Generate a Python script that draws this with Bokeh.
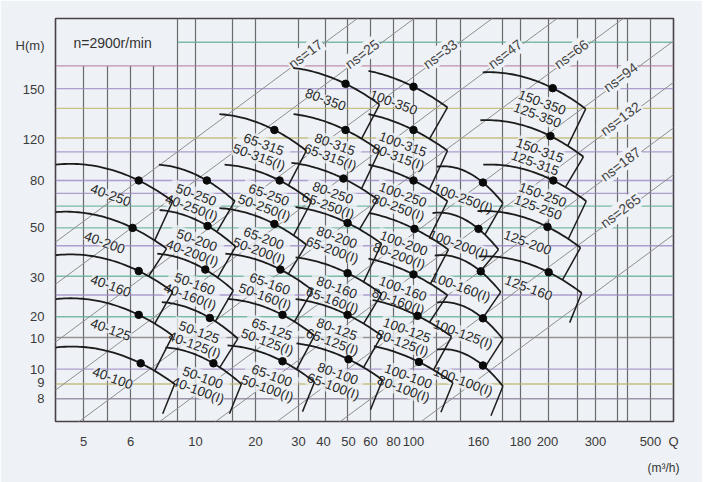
import numpy as np
from bokeh.plotting import figure
from bokeh.models import FixedTicker, Label, Range1d, Title
from bokeh.embed import file_html
from bokeh.resources import INLINE
from bokeh.core.properties import value

# ---------------- axis ticks (the chart's axis is a stylised, non-uniform scale) ----
x_tick_labels = ["5", "6", "10", "20", "30", "40", "50", "60", "80", "100", "160", "180", "200", "300", "500"]
x_tick_q = [5, 6, 10, 20, 30, 40, 50, 60, 80, 100, 160, 180, 200, 300, 500]
y_tick_labels = ["8", "9", "10", "10", "20", "30", "50", "80", "120", "150"]
y_tick_h = [8, 9, 10, 15, 20, 30, 50, 80, 120, 150]

# ---------------- pump best-efficiency points (Q m3/h, H m) by column ---------------
pump_labels = [
    "40-250", "40-200", "40-160", "40-125", "40-100",
    "50-250\n40-250(I)", "50-200\n40-200(I)", "50-160\n40-160(I)", "50-125\n40-125(I)", "50-100\n40-100(I)",
    "65-315\n50-315(I)", "65-250\n50-250(I)", "65-200\n50-200(I)", "65-160\n50-160(I)", "65-125\n50-125(I)", "65-100\n50-100(I)",
    "80-350", "80-315\n65-315(I)", "80-250\n65-250(I)", "80-200\n65-200(I)", "80-160\n65-160(I)", "80-125\n65-125(I)", "80-100\n65-100(I)",
    "100-350", "100-315\n80-315(I)", "100-250\n80-250(I)", "100-200\n80-200(I)", "100-160\n80-160(I)", "100-125\n80-125(I)", "100-100\n80-100(I)",
    "100-250(I)", "100-200(I)", "100-160(I)", "100-125(I)", "100-100(I)",
    "150-350\n125-350", "150-315\n125-315", "150-250\n125-250", "125-200", "125-160",
]
pump_q = [
    6.4, 6.1, 6.4, 6.4, 6.5,
    11.4, 11.5, 11.2, 11.8, 12.3,
    23.9, 25.1, 23.9, 25.3, 25.8, 25.8,
    48.7, 48.7, 47.8, 49.6, 49.6, 49.6, 50,
    100, 100, 100, 100.7, 100, 103, 104,
    162, 160, 161, 162, 162,
    209, 205, 210, 200, 202,
]
pump_h = [
    80, 50, 32, 20.4, 10.8,
    80, 51, 32.5, 19.7, 10.8,
    125, 80, 52, 32.5, 20.4, 11.1,
    154, 125, 81.5, 52.5, 31.3, 20.4, 11.4,
    152, 125, 80, 49.5, 30.9, 20.2, 11.0,
    78.4, 49.5, 31.9, 19.6, 10.5,
    151, 121.6, 80, 50.5, 31.6,
]
pump_col = [0] * 5 + [1] * 5 + [2] * 6 + [3] * 7 + [4] * 7 + [5] * 5 + [6] * 5

# specific-speed lines: label and the flow at which each crosses H = 80 m
ns_labels = ["ns=17", "ns=25", "ns=33", "ns=47", "ns=66", "ns=94", "ns=132", "ns=187", "ns=265", ""]
ns_q_at_80 = [6.4, 10, 23.7, 45.7, 90.5, 163, 195, 320, 575, 1220]

# ---------------- layout (screen-like position units, 1 unit = 1 px) -------------
x_tick_pos = [28, 75, 140, 200, 243, 268, 293, 315, 338, 358, 423, 465, 492, 540, 595]
y_tick_pos = [23, 39, 53, 84, 106, 146, 196, 244, 286, 336]
FW, FH = 618, 408


def to_pos(v, vals, pos):
    lv = np.log10(np.atleast_1d(np.asarray(v, float)))
    lvals = np.log10(np.asarray(vals, float))
    pos = np.asarray(pos, float)
    i = np.clip(np.searchsorted(lvals, lv) - 1, 0, len(lvals) - 2)
    return pos[i] + (lv - lvals[i]) * (pos[i + 1] - pos[i]) / (lvals[i + 1] - lvals[i])


BG = "#eef1f5"
INK = "#1c1c1c"
FONT = "Liberation Sans"

p = figure(width=702, height=482, x_range=Range1d(0, FW), y_range=Range1d(0, FH),
           output_backend="svg", toolbar_location=None,
           min_border_left=55, min_border_right=29, min_border_top=18, min_border_bottom=56)
p.background_fill_color = BG
p.border_fill_color = BG
p.outline_line_color = "#4a4048"
p.outline_line_width = 1.6
p.grid.visible = False

for ax in (p.xaxis[0], p.yaxis[0]):
    ax.axis_line_color = None
    ax.major_tick_line_color = None
    ax.minor_tick_line_color = None
    ax.major_label_text_font = FONT
    ax.major_label_text_font_size = "13px"
    ax.major_label_text_color = "#3a3a3a"

x_ticks = x_tick_pos + [FW]
p.xaxis.ticker = FixedTicker(ticks=x_ticks)
xov = {t: l for t, l in zip(x_tick_pos, x_tick_labels)}
xov[FW] = "Q"
p.xaxis.major_label_overrides = xov
p.xaxis.major_label_standoff = 6
y_ticks = y_tick_pos + [381]
p.yaxis.ticker = FixedTicker(ticks=y_ticks)
ov = {t: l for t, l in zip(y_tick_pos, y_tick_labels)}
ov[381] = "H(m)"
p.yaxis.major_label_overrides = ov
p.yaxis.major_label_standoff = 5

p.add_layout(Title(text="(m³/h)", align="right", text_font=FONT, text_font_size="12px",
                   text_font_style="normal", text_color="#333333", offset=-6, standoff=15), "below")

# ---------------- grid ----------------
vgrid_full = [122, 140, 177, 200, 243, 270, 292, 315, 338, 358, 381, 405, 447, 465, 493, 522, 540, 562, 572, 595]
vgrid_short = [28, 52, 75, 98]
p.segment(x0=vgrid_full, y0=[0] * len(vgrid_full), x1=vgrid_full, y1=[FH] * len(vgrid_full),
          line_color="#6a6a6a", line_width=1.2)
p.segment(x0=vgrid_short, y0=[0] * 4, x1=vgrid_short, y1=[360] * 4, line_color="#6a6a6a", line_width=1.2)

hgrid = [(384, "#5fae93", 122), (360, "#b5789e", 0), (337, "#9b8ac4", 0), (317, "#bdb56a", 0),
         (287, "#bdb56a", 0), (273, "#9b8ac4", 0), (244, "#9b8ac4", 0), (231, "#9b8ac4", 0),
         (218, "#5fae93", 0), (196, "#5fae93", 0), (178, "#9b8ac4", 0), (147, "#5fae93", 0),
         (128, "#9b8ac4", 0), (106, "#5fae93", 0), (85, "#7c7c7c", 0), (53, "#9b8ac4", 0),
         (38, "#bdb56a", 0), (23, "#8a7f98", 0)]
for yy, cc, x0 in hgrid:
    p.segment(x0=[x0], y0=[yy], x1=[FW], y1=[yy], line_color=cc, line_width=1.4, line_alpha=0.8)

# ---------------- specific speed lines ----------------
y80 = to_pos([80], y_tick_h, y_tick_pos)[0]
ns_x80 = to_pos(ns_q_at_80, x_tick_q, x_tick_pos)
slope = 0.75
lx_all, ly_all, lt_all = [], [], []
for lab, x80 in zip(ns_labels, ns_x80):
    xa, xb = -300.0, 900.0
    p.line([xa, xb], [y80 + slope * (xa - x80), y80 + slope * (xb - x80)],
           line_color="#8e8e8e", line_width=1.0)
    if lab:
        x_top = x80 + (FH - y80) / slope
        lx = min(x_top - 52, 565)
        ly = y80 + slope * (lx - x80) + 3
        lx_all.append(lx); ly_all.append(ly); lt_all.append(lab)
p.text(x=lx_all, y=ly_all, text=lt_all, angle=float(np.arctan(slope)),
       text_align="center", text_baseline="middle", text_font=value(FONT),
       text_font_size="14px", text_color="#444444",
       background_fill_color=BG, padding=1)

# ---------------- pump curves ----------------
qx = to_pos(pump_q, x_tick_q, x_tick_pos)
hy = to_pos(pump_h, y_tick_h, y_tick_pos)
col_start_dx = [None, 48, 55, 52, 45, 46, 70]
col_end_dx = [34, 28, 32, 34, 34, 20, 33]
R, D = 16, 21
cxs, cys, polys = [], [], []
for i in range(len(pump_q)):
    c = pump_col[i]
    xd, yd = qx[i], hy[i]
    xs = 0.0 if col_start_dx[c] is None else xd - col_start_dx[c]
    xe = xd + col_end_dx[c]
    coef = np.polyfit([xs, xd, xe], [yd + R, yd, yd - D], 2)
    xx = np.linspace(xs, xe, 40)
    cxs.append(list(xx)); cys.append(list(np.polyval(coef, xx)))
    polys.append((coef, xs, xe))

bxs, bys = [], []
for i in range(len(pump_q)):
    coef, xs, xe = polys[i]
    ye = float(np.polyval(coef, xe))
    if i + 1 < len(pump_q) and pump_col[i + 1] == pump_col[i]:
        x2 = xe - 18
        y2 = float(np.polyval(polys[i + 1][0], x2))
    else:
        x2, y2 = xe - 12, ye - 30
    bxs.append([xe, x2]); bys.append([ye, y2])

lab_x, lab_y = [], []
for i, lab in enumerate(pump_labels):
    if pump_col[i] == 0:
        dx, dy = -28, -15
    elif "\n" not in lab:
        dx, dy = -20, -16
    else:
        dx, dy = -13, -21
    lab_x.append(qx[i] + dx); lab_y.append(hy[i] + dy)
p.text(x=lab_x, y=lab_y, text=pump_labels, angle=-0.35, text_align="center",
       text_baseline="middle", text_font=value(FONT), text_font_size="13.5px",
       text_color="#2a2a2a", text_line_height=0.9,
       background_fill_color=BG, background_fill_alpha=0.75, padding=0)

p.multi_line(cxs, cys, line_color=INK, line_width=1.8)
p.multi_line(bxs, bys, line_color=INK, line_width=1.5)
p.scatter(qx, hy, size=7.5, color="#0a0a0a")

# ---------------- texts ----------------
p.add_layout(Label(x=18, y=383, text="n=2900r/min", text_font=FONT, text_font_size="14px",
                   text_color="#333333", text_baseline="middle", text_align="left"))

open("out.html", "w").write(file_html(p, INLINE, title="pump chart"))
